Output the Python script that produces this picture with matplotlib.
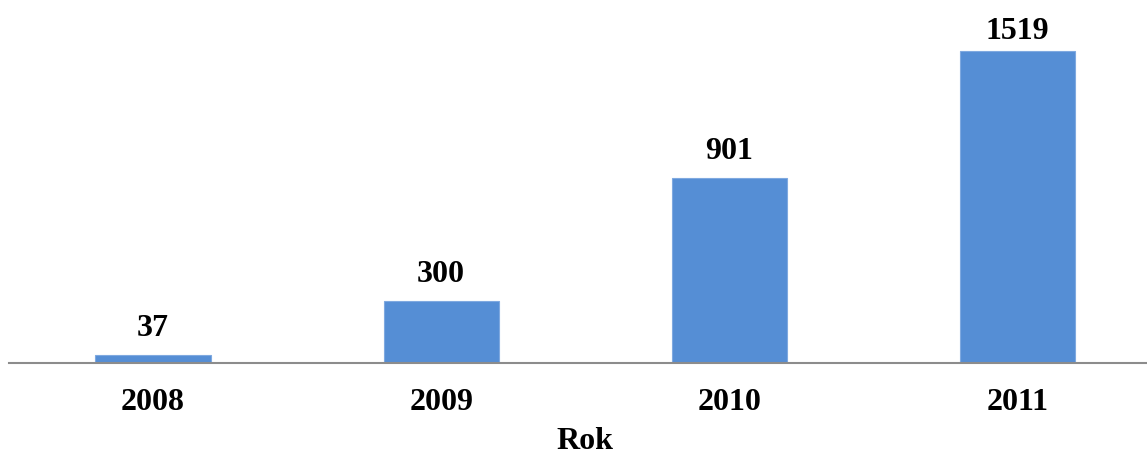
import matplotlib.pyplot as plt

years = ["2008", "2009", "2010", "2011"]
counts = [37, 300, 901, 1519]

plt.rcParams['font.family'] = ['Liberation Serif', 'DejaVu Serif']
plt.rcParams['font.weight'] = 'bold'

W, H = 1147, 457
fig = plt.figure(figsize=(W / 100, H / 100), dpi=100)
# axes spans from the left edge to the right edge, baseline at y=363 px
ax = fig.add_axes([9 / W, (H - 363) / H, 1138 / W, 363 / H])

ytop = 1767
x = range(len(years))
ax.bar(x, counts, width=0.4, color='#558ED5', edgecolor='#7FA9E0', linewidth=0.8, zorder=2)

# value labels sit ~19 px above the bar, but never higher than the top of the figure allows
px = ytop / 363
for xi, v in zip(x, counts):
    ly = min(v + 19 * px, (363 - 39) * px)
    ax.text(xi, ly, str(v), ha='center', va='baseline', fontsize=23, fontweight='bold')

ax.set_xlim(-0.5, 3.45)
ax.set_ylim(0, ytop)
ax.set_xticks(list(x))
ax.set_xticklabels(years, fontsize=23, fontweight='bold')
ax.tick_params(axis='x', length=0, pad=18)
ax.set_yticks([])
for s in ['top', 'right', 'left']:
    ax.spines[s].set_visible(False)
ax.spines['bottom'].set_color('#8C8C8C')
ax.spines['bottom'].set_linewidth(1.5)

fig.text(585 / W, (H - 449) / H, "Rok", ha='center', va='baseline', fontsize=23, fontweight='bold')

fig.savefig('out.png', dpi=100)
